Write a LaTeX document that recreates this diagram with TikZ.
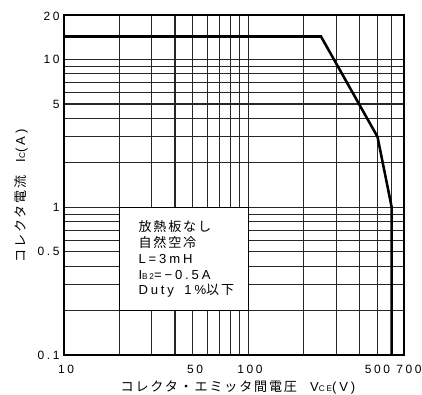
\documentclass[tikz,border=0pt]{standalone}
\usepackage{fontspec}
\setmainfont[LetterSpace=22]{Liberation Sans}
\newfontfamily\jpfont[LetterSpace=14]{Noto Sans CJK JP}
\newcommand{\subcap}[1]{{\fontsize{6.2}{6.2}\selectfont #1}}
\tikzset{every picture/.style={line width=0.75pt}}
\tikzset{grid line/.style={line width=0.8pt,black!85},
  tick label/.style={font=\fontsize{9}{10}\selectfont,inner sep=0pt},
  curve line/.style={line width=1.9pt,line join=miter}}

\begin{document}
\begin{tikzpicture}[x=0.75pt,y=0.75pt,yscale=-1,xscale=1]
\useasboundingbox (0,0) rectangle (422,395);

%Grid: vertical lines (20 ... 600 V)
\foreach \gx in {119.5,151.9,175.0,192.8,207.4,219.8,230.4,239.9,248.3,303.8,336.2,359.3,377.5,391.7}
  \draw[grid line] (\gx,15) -- (\gx,355) ;
%Grid: horizontal lines (0.2 ... 10 A)
\foreach \gy in {59.5,66.3,73.8,82.4,92.3,104.0,118.3,136.8,162.8,207.3,214.1,221.6,230.6,240.6,251.8,266.1,284.6,310.6}
  \draw[grid line] (64,\gy) -- (404,\gy) ;
%Shape: frame
\draw[line width=1.1pt] (64,15) rectangle (404,355) ;

%Curve Lines: safe operating area
\draw[curve line] (64,36.5) -- (321,36.5) -- (377.5,136.8) -- (391.7,207.3) -- (391.7,355) ;

%Shape: note box
\draw[line width=1.1pt,fill=white] (119.5,207.3) rectangle (248.3,310.6) ;
\node[anchor=north west,align=left,inner sep=0pt,font=\fontsize{9.8}{11.9}\selectfont] (note) at (138,220)
  {{\jpfont 放熱板なし}\\{\jpfont 自然空冷}\\L=3mH\\I\subcap{B2}=−0.5A\\Duty\hspace{0.3em} 1\%{\jpfont 以下}};

%Tick labels: Ic
\foreach \ty/\tt/\tn in {16.5/20/y20,59.5/10/y10,104.0/5/y5,207.3/1/y1,251.8/0.5/y05,355/0.1/y01}
  \node[tick label,anchor=east] (\tn) at (60,\ty) {\tt};
%Tick labels: Vce
\foreach \tx/\tt/\tn in {66/10/x10,195/50/x50,250/100/x100,377.5/500/x500,409/700/x700}
  \node[tick label] (\tn) at (\tx,369) {\tt};

%Axis titles
\node[font=\fontsize{9.8}{10}\selectfont,inner sep=0pt] (xtitle) at (238,388)
  {{\jpfont コレクタ・エミッタ間電圧}\hspace{1em}V\subcap{CE}(V)};
\node[font=\fontsize{9.8}{10}\selectfont,inner sep=0pt,rotate=90] (ytitle) at (21,196)
  {{\jpfont コレクタ電流}\hspace{1em}I\subcap{C}(A)};

\end{tikzpicture}
\end{document}
